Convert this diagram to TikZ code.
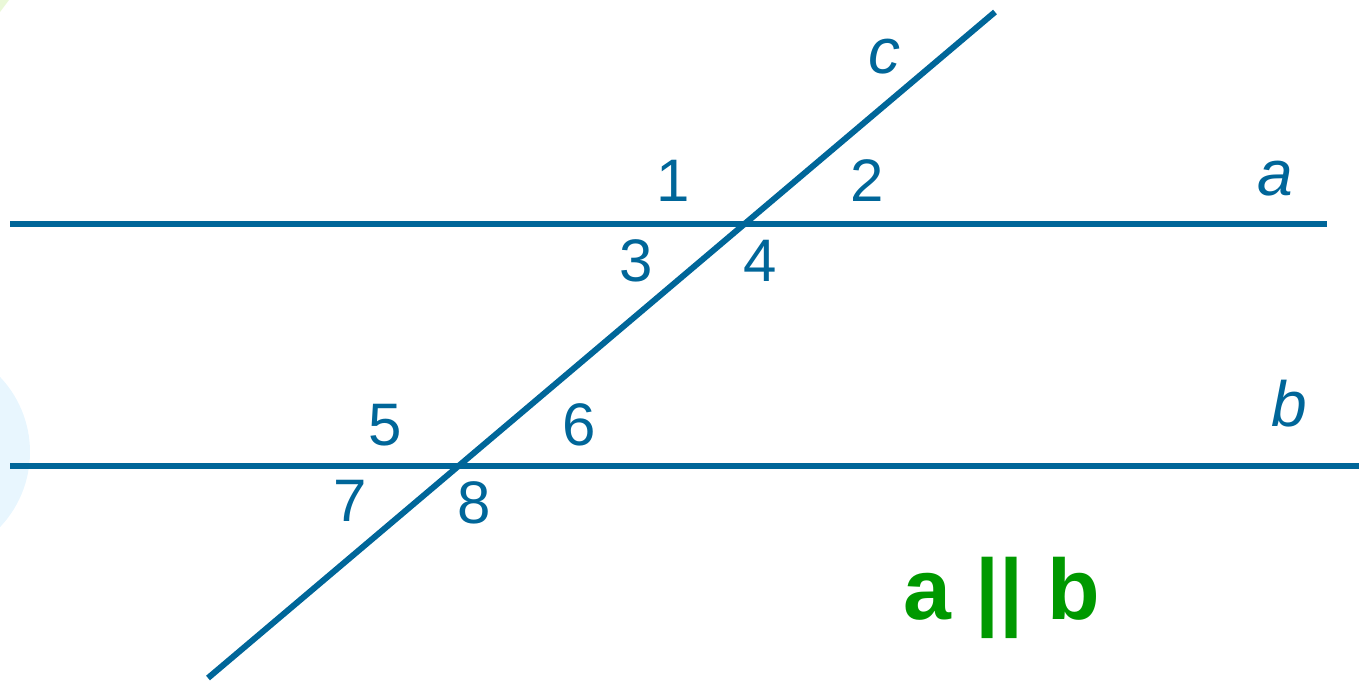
\documentclass[tikz,border=0pt]{standalone}
\usepackage{fontspec}
\setmainfont{Liberation Sans}
\definecolor{lineblue}{RGB}{0,102,153}
\definecolor{pargreen}{RGB}{0,153,0}
\definecolor{bgblue}{RGB}{232,246,254}
\definecolor{bggreen}{RGB}{234,248,216}
\begin{document}
\begin{tikzpicture}[x=0.5pt,y=-0.5pt,
  ln/.style={draw=lineblue,line width=3pt},
  num/.style={text=lineblue,font=\fontsize{30}{30}\selectfont,inner sep=0pt,anchor=center},
  lab/.style={text=lineblue,font=\fontsize{32}{32}\selectfont\itshape,inner sep=0pt,anchor=center},
  par/.style={text=pargreen,font=\fontsize{43}{43}\selectfont\bfseries,inner sep=0pt,anchor=center}]
\useasboundingbox (0,0) rectangle (1359,680);
% faint background decorations
\begin{scope}
\clip (0,0) rectangle (1359,680);
\fill[bgblue] (-79,452) circle (109);
\fill[bggreen] (0,0) -- (9,0) -- (0,12) -- cycle;
\end{scope}
% lines
\coordinate (aL) at (10,224);
\coordinate (aR) at (1327,224);
\coordinate (bL) at (10,466);
\coordinate (bR) at (1359,466);
\coordinate (cB) at (208,678);
\coordinate (cT) at (995,12);
\draw[ln] (aL) -- (aR);
\draw[ln] (bL) -- (bR);
\draw[ln] (cB) -- (cT);
% labels
\node[lab] (lc) at (884,57) {c};
\node[lab] (la) at (1275,179) {a};
\node[lab] (lb) at (1289,404) {b};
\node[num] (n1) at (673,181) {1};
\node[num] (n2) at (867,181) {2};
\node[num] (n3) at (636,261) {3};
\node[num] (n4) at (760,261) {4};
\node[num] (n5) at (385,425) {5};
\node[num] (n6) at (579,425) {6};
\node[num] (n7) at (350,501) {7};
\node[num] (n8) at (474,503) {8};
\node[par] (ab) at (1002,598) {a || b};
\end{tikzpicture}
\end{document}
